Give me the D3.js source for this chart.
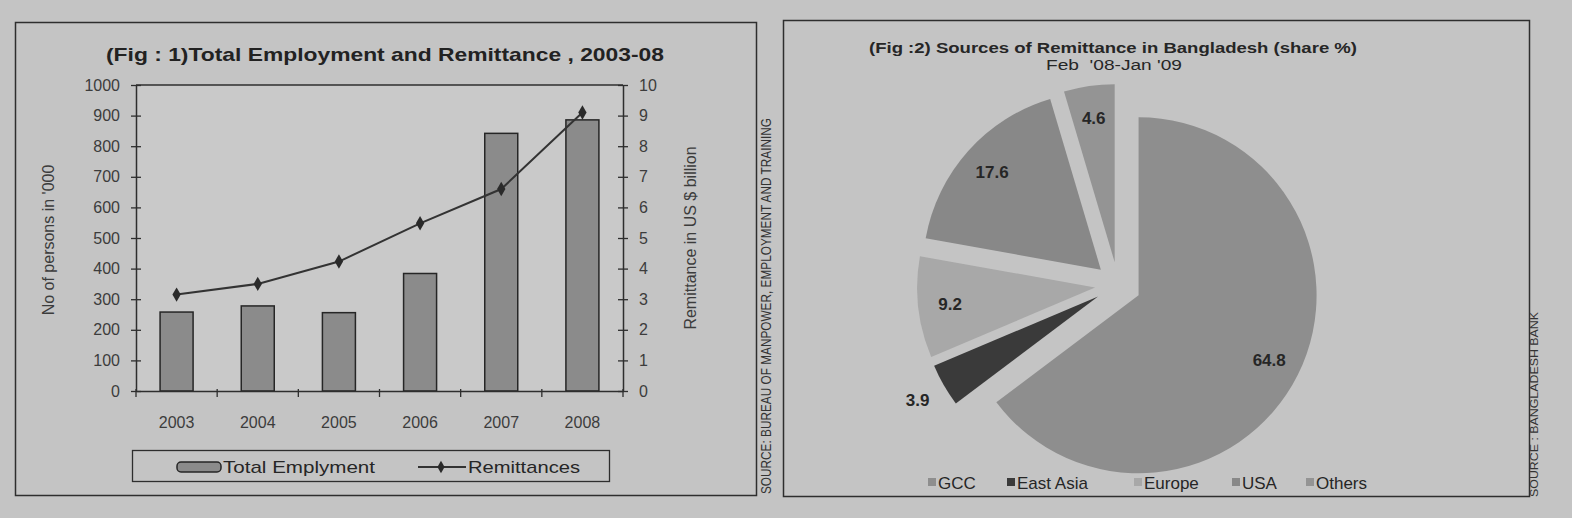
<!DOCTYPE html>
<html>
<head>
<meta charset="utf-8">
<script src="https://cdn.jsdelivr.net/npm/d3@7"></script>
<style>
body { margin: 0; background: #c4c4c4; }
svg { display: block; font-family: "Liberation Sans", Arial, sans-serif; }
</style>
</head>
<body>
<svg id="chart" width="1572" height="518"></svg>
<script>
// fig 1 data
var years = ["2003", "2004", "2005", "2006", "2007", "2008"];
var employment = [258, 278, 256, 384, 842, 886];
var remittances = [3.15, 3.5, 4.23, 5.48, 6.6, 9.1];
var leftTicks = [0, 100, 200, 300, 400, 500, 600, 700, 800, 900, 1000];
var rightTicks = [0, 1, 2, 3, 4, 5, 6, 7, 8, 9, 10];

// fig 2 data
var regions = ["GCC", "East Asia", "Europe", "USA", "Others"];
var shares = [64.8, 3.9, 9.2, 17.6, 4.6];
var shades = ["#8e8e8e", "#3a3a3a", "#a8a8a8", "#888888", "#949494"];

var svg = d3.select("#chart");
var ink = "#2e2e2e", soft = "#3c3c3c";

/* ---------- left panel ---------- */
svg.append("rect").attr("x", 15.5).attr("y", 22.5).attr("width", 741).attr("height", 473)
    .attr("fill", "none").attr("stroke", ink).attr("stroke-width", 1.5);

svg.append("text").attr("x", 385).attr("y", 61).attr("text-anchor", "middle")
    .attr("font-size", 19).attr("font-weight", "bold").attr("fill", "#222")
    .attr("textLength", 558).attr("lengthAdjust", "spacingAndGlyphs")
    .text("(Fig : 1)Total Employment and Remittance , 2003-08");

var x = d3.scaleBand().domain(years).range([136, 623]);
var yL = d3.scaleLinear().domain([0, 1000]).range([391, 85]);
var yR = d3.scaleLinear().domain([0, 10]).range([391, 85]);

svg.append("rect").attr("x", 136).attr("y", 85).attr("width", 487).attr("height", 306)
    .attr("fill", "#c9c9c9");
svg.append("line").attr("x1", 136).attr("x2", 623).attr("y1", 85).attr("y2", 85)
    .attr("stroke", ink).attr("stroke-width", 1.3);

svg.selectAll("rect.bar").data(years).enter().append("rect")
    .attr("class", "bar")
    .attr("x", function(d) { return x(d) + x.bandwidth() / 2 - 16.5; })
    .attr("width", 33)
    .attr("y", function(d, i) { return yL(employment[i]); })
    .attr("height", function(d, i) { return 391 - yL(employment[i]); })
    .attr("fill", "#8b8b8b").attr("stroke", "#262626").attr("stroke-width", 1.5);

var axL = svg.append("g").attr("transform", "translate(136,0)")
    .call(d3.axisLeft(yL).tickValues(leftTicks).tickFormat(d3.format("d"))
        .tickSize(5).tickSizeOuter(0).tickPadding(11));
axL.selectAll(".tick line").attr("x1", 5);
var axR = svg.append("g").attr("transform", "translate(623,0)")
    .call(d3.axisRight(yR).tickValues(rightTicks).tickFormat(d3.format("d"))
        .tickSize(5).tickSizeOuter(0).tickPadding(11));
axR.selectAll(".tick line").attr("x1", -5);

var axB = svg.append("g").attr("transform", "translate(0,391)")
    .call(d3.axisBottom(x).tickSize(0).tickSizeOuter(0).tickPadding(32));
axB.selectAll(".tick text").attr("dy", "0.32em");
var bounds = years.map(function(d) { return x(d); }).concat([x.range()[1]]);
axB.selectAll("line.bnd").data(bounds).enter().append("line")
    .attr("x1", function(d) { return d; }).attr("x2", function(d) { return d; })
    .attr("y1", -2).attr("y2", 6);

[axL, axR, axB].forEach(function(g) {
    g.selectAll("path.domain").attr("stroke", ink).attr("stroke-width", 1.5);
    g.selectAll("line").attr("stroke", ink).attr("stroke-width", 1.3);
    g.selectAll("text").attr("font-size", 16).attr("fill", soft)
        .attr("font-family", "'Liberation Sans', Arial, sans-serif");
});

var line = d3.line()
    .x(function(d, i) { return x(years[i]) + x.bandwidth() / 2; })
    .y(function(d) { return yR(d); });
svg.append("path").datum(remittances).attr("d", line)
    .attr("fill", "none").attr("stroke", "#333").attr("stroke-width", 2);
svg.selectAll("path.dot").data(remittances).enter().append("path")
    .attr("class", "dot")
    .attr("d", d3.symbol().type(d3.symbolDiamond).size(60))
    .attr("transform", function(d, i) {
        return "translate(" + (x(years[i]) + x.bandwidth() / 2) + "," + yR(d) + ")";
    })
    .attr("fill", "#2a2a2a");

svg.append("text").attr("transform", "translate(54,240) rotate(-90)")
    .attr("text-anchor", "middle").attr("font-size", 16).attr("fill", soft)
    .text("No of persons in '000");
svg.append("text").attr("transform", "translate(696,238) rotate(-90)")
    .attr("text-anchor", "middle").attr("font-size", 16).attr("fill", soft)
    .text("Remittance in US $ billion");

// legend
var lg = svg.append("g");
lg.append("rect").attr("x", 132.5).attr("y", 450.5).attr("width", 477).attr("height", 31)
    .attr("fill", "none").attr("stroke", ink).attr("stroke-width", 1.3);
lg.append("rect").attr("x", 177).attr("y", 462).attr("width", 44).attr("height", 10).attr("rx", 4)
    .attr("fill", "#8b8b8b").attr("stroke", "#262626").attr("stroke-width", 1.5);
lg.append("text").attr("x", 223).attr("y", 473).attr("font-size", 17).attr("fill", "#262626")
    .attr("textLength", 152).attr("lengthAdjust", "spacingAndGlyphs").text("Total Emplyment");
lg.append("line").attr("x1", 418).attr("x2", 466).attr("y1", 467).attr("y2", 467)
    .attr("stroke", "#333").attr("stroke-width", 2);
lg.append("path").attr("d", d3.symbol().type(d3.symbolDiamond).size(45)())
    .attr("transform", "translate(441,467)").attr("fill", "#2a2a2a");
lg.append("text").attr("x", 468).attr("y", 473).attr("font-size", 17).attr("fill", "#262626")
    .attr("textLength", 112).attr("lengthAdjust", "spacingAndGlyphs").text("Remittances");

svg.append("text").attr("transform", "translate(771,494) rotate(-90)")
    .attr("font-size", 14).attr("fill", "#333")
    .attr("textLength", 376).attr("lengthAdjust", "spacingAndGlyphs")
    .text("SOURCE: BUREAU OF MANPOWER, EMPLOYMENT AND TRAINING");

/* ---------- right panel ---------- */
svg.append("rect").attr("x", 783.5).attr("y", 20.5).attr("width", 746).attr("height", 476)
    .attr("fill", "none").attr("stroke", ink).attr("stroke-width", 1.5);

svg.append("text").attr("x", 1113).attr("y", 53).attr("text-anchor", "middle")
    .attr("font-size", 14).attr("font-weight", "bold").attr("fill", "#262626")
    .attr("textLength", 488).attr("lengthAdjust", "spacingAndGlyphs")
    .text("(Fig :2) Sources of Remittance in Bangladesh (share %)");
svg.append("text").attr("x", 1114).attr("y", 70).attr("text-anchor", "middle")
    .attr("font-size", 14).attr("fill", "#262626").attr("xml:space", "preserve")
    .attr("textLength", 136).attr("lengthAdjust", "spacingAndGlyphs")
    .text("Feb  '08-Jan '09");

var cx = 1118, cy = 285, r = 178, pull = 23;
var pie = d3.pie().sort(null).value(function(d) { return d; });
var arc = d3.arc().innerRadius(0).outerRadius(r);
var arcs = pie(shares);
var pg = svg.append("g").attr("transform", "translate(" + cx + "," + cy + ")");

function mid(a) { return (a.startAngle + a.endAngle) / 2; }

pg.selectAll("path.slice").data(arcs).enter().append("path")
    .attr("class", "slice")
    .attr("d", arc)
    .attr("transform", function(a) {
        var m = mid(a);
        return "translate(" + (pull * Math.sin(m)) + "," + (-pull * Math.cos(m)) + ")";
    })
    .attr("fill", function(a, i) { return shades[i]; });

pg.selectAll("text.val").data(arcs).enter().append("text")
    .attr("class", "val")
    .attr("x", function(a) {
        var m = mid(a), k = a.data < 4 ? 1.17 : 0.82;
        return (pull + r * k) * Math.sin(m);
    })
    .attr("y", function(a) {
        var m = mid(a), k = a.data < 4 ? 1.17 : 0.82;
        return -(pull + r * k) * Math.cos(m);
    })
    .attr("dy", "0.35em").attr("text-anchor", "middle")
    .attr("font-size", 17).attr("font-weight", "bold").attr("fill", "#262626")
    .text(function(a) { return a.data.toFixed(1); });

// legend
var legX = [932, 1011, 1138, 1236, 1310];
var pl = svg.selectAll("g.pleg").data(regions).enter().append("g")
    .attr("class", "pleg")
    .attr("transform", function(d, i) { return "translate(" + legX[i] + ",482)"; });
pl.append("rect").attr("x", -4).attr("y", -4).attr("width", 8).attr("height", 8)
    .attr("fill", function(d, i) { return shades[i]; });
pl.append("text").attr("x", 6).attr("y", 6.5).attr("font-size", 17).attr("fill", "#262626")
    .text(function(d) { return d; });

svg.append("text").attr("transform", "translate(1538,497) rotate(-90)")
    .attr("font-size", 11).attr("fill", "#333")
    .attr("textLength", 185).attr("lengthAdjust", "spacingAndGlyphs")
    .text("SOURCE : BANGLADESH BANK");
</script>
</body>
</html>
